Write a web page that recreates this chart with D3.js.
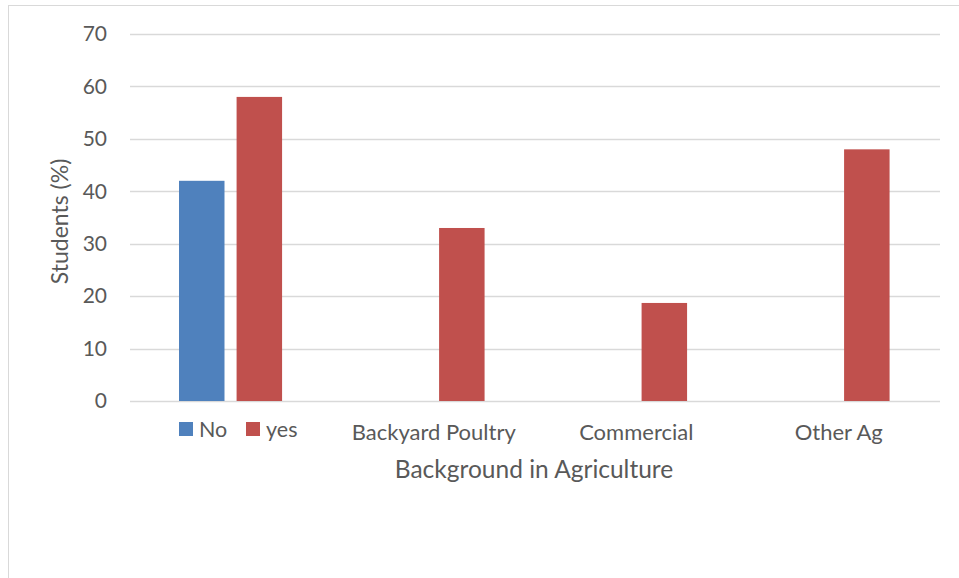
<!DOCTYPE html>
<html>
<head>
<meta charset="utf-8">
<script src="https://cdn.jsdelivr.net/npm/d3@7"></script>
<style>
  html, body { margin: 0; padding: 0; background: #fff; }
  svg { display: block; }
  text { font-family: Lato, "Open Sans", sans-serif; fill: #595959; }
</style>
</head>
<body>
<svg id="chart" width="959" height="578"></svg>
<script>
// Share of students by agricultural background
const categories = ["", "Backyard Poultry", "Commercial", "Other Ag"];
const seriesNames = ["No", "yes"];
const noValues = [42, 0, 0, 0];
const yesValues = [58, 33, 18.7, 48];
const yTicks = [0, 10, 20, 30, 40, 50, 60, 70];
const colors = ["#4f81bd", "#c0504d"];

const svg = d3.select("#chart");
const W = 959, H = 578;
const plot = { left: 130, right: 940, top: 34, bottom: 401 };

// outer chart frame
svg.append("rect")
  .attr("x", 8.5).attr("y", 5.5)
  .attr("width", W + 10).attr("height", H + 10)
  .attr("fill", "#fff").attr("stroke", "#d9d9d9").attr("stroke-width", 1);

const y = d3.scaleLinear().domain([0, 70]).range([plot.bottom, plot.top]);
const x0 = d3.scaleBand().domain(categories.map((c, i) => i)).range([plot.left, plot.right]);
const gw = x0.bandwidth();
const x1 = d3.scaleBand().domain(seriesNames)
  .range([gw * 0.242, gw * 0.751]).paddingInner(0.21);

// gridlines
svg.append("g").selectAll("line").data(yTicks).join("line")
  .attr("x1", plot.left).attr("x2", plot.right)
  .attr("y1", d => Math.round(y(d)) + 0.5).attr("y2", d => Math.round(y(d)) + 0.5)
  .attr("stroke", "#d9d9d9").attr("stroke-width", 1.3);

// y axis labels
const yAxis = d3.axisLeft(y).tickValues(yTicks).tickSize(0).tickPadding(0);
const gy = svg.append("g").attr("transform", `translate(${plot.left - 23},0)`).call(yAxis);
gy.select(".domain").remove();
gy.selectAll("text").attr("font-size", 21).style("font-family", "Lato, 'Open Sans', sans-serif").attr("fill", "#595959");

// bars
const rows = categories.map((c, i) => ({ i, vals: [noValues[i], yesValues[i]] }));
const groups = svg.append("g").selectAll("g").data(rows).join("g")
  .attr("transform", d => `translate(${x0(d.i)},0)`);
groups.selectAll("rect").data(d => d.vals.map((v, k) => ({ k, v })).filter(e => e.v > 0))
  .join("rect")
  .attr("x", e => x1(seriesNames[e.k]))
  .attr("width", x1.bandwidth())
  .attr("y", e => y(e.v))
  .attr("height", e => y(0) - y(e.v))
  .attr("fill", e => colors[e.k]);

// category labels
const xAxis = d3.axisBottom(x0).tickFormat(i => categories[i]).tickSize(0).tickPadding(0);
const gx = svg.append("g").attr("transform", `translate(0,440)`).call(xAxis);
gx.select(".domain").remove();
gx.selectAll("text").attr("font-size", 22).style("font-family", "Lato, 'Open Sans', sans-serif")
  .attr("fill", "#595959").attr("y", 0).attr("dy", 0);

// legend under the first group
const lg = svg.append("g").attr("transform", `translate(179,422)`);
const items = lg.selectAll("g").data(seriesNames).join("g")
  .attr("transform", (d, k) => `translate(${k * 67},0)`);
items.append("rect").attr("width", 14).attr("height", 14).attr("fill", (d, k) => colors[k]);
items.append("text").attr("x", 20).attr("y", 14.5).attr("font-size", 21.5).text(d => d);

// axis titles
svg.append("text")
  .attr("x", (plot.left + plot.right) / 2 - 1).attr("y", 478)
  .attr("text-anchor", "middle").attr("font-size", 24.5)
  .text("Background in Agriculture");
svg.append("text")
  .attr("transform", `translate(68,${(plot.top + plot.bottom) / 2 + 4}) rotate(-90)`)
  .attr("text-anchor", "middle").attr("font-size", 23)
  .text("Students (%)");
</script>
</body>
</html>
